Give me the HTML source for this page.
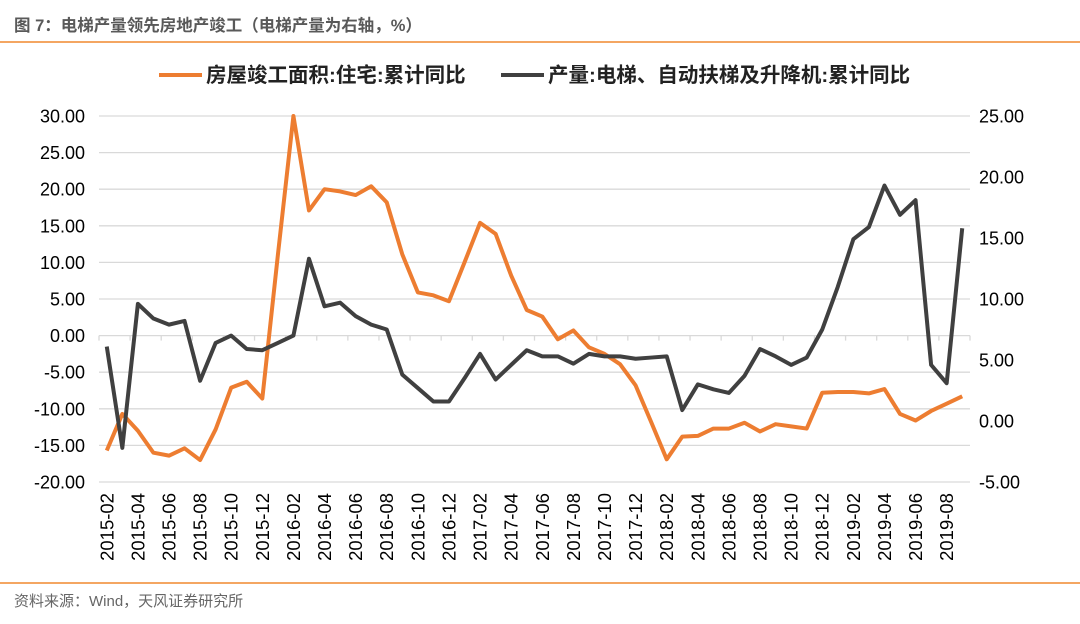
<!DOCTYPE html>
<html><head><meta charset="utf-8">
<style>
html,body{margin:0;padding:0;background:#fff;width:1080px;height:624px;overflow:hidden}
svg text{font-family:"Liberation Sans","Noto Sans CJK SC",sans-serif}
</style></head>
<body>
<svg id="chart" width="1080" height="624" xmlns="http://www.w3.org/2000/svg">
<text x="14" y="31" font-size="16.5" font-weight="bold" fill="#595959">图 7：电梯产量领先房地产竣工（电梯产量为右轴，%）</text>
<line x1="0" y1="42" x2="1080" y2="42" stroke="#f0892e" stroke-width="1.5"/>
<g>
<line x1="159" y1="75" x2="202" y2="75" stroke="#ed7d31" stroke-width="4"/>
<text x="206" y="82" font-size="20.5" font-weight="bold" fill="#222">房屋竣工面积:住宅:累计同比</text>
<line x1="501" y1="75" x2="544" y2="75" stroke="#404040" stroke-width="4"/>
<text x="548" y="82" font-size="20.5" font-weight="bold" fill="#222">产量:电梯、自动扶梯及升降机:累计同比</text>
</g>
<g id="grid"></g><g id="axes"></g><g id="series"></g>
<line x1="0" y1="583" x2="1080" y2="583" stroke="#f0892e" stroke-width="1.5"/>
<text x="14" y="606" font-size="15" fill="#666">资料来源：Wind，天风证券研究所</text>
</svg>
<script>
const startYear = 2015, startMonth = 2;
const completion = [-15.7,-10.7,-13.0,-16.0,-16.4,-15.4,-17.0,-12.8,-7.1,-6.3,-8.6,11.0,30.0,17.1,20.0,19.7,19.2,20.4,18.2,11.1,5.9,5.5,4.7,10.0,15.4,13.9,8.2,3.5,2.6,-0.5,0.7,-1.6,-2.5,-3.9,-6.8,-11.8,-16.9,-13.8,-13.7,-12.7,-12.7,-11.9,-13.1,-12.1,-12.4,-12.7,-7.8,-7.7,-7.7,-7.9,-7.3,-10.7,-11.6,-10.3,-9.3,-8.3];
const elevator = [6.1,-2.2,9.6,8.4,7.9,8.2,3.3,6.4,7.0,5.9,5.8,6.4,7.0,13.3,9.4,9.7,8.6,7.9,7.5,3.8,2.7,1.6,1.6,3.5,5.5,3.4,4.6,5.8,5.3,5.3,4.7,5.5,5.3,5.3,5.1,5.2,5.3,0.9,3.0,2.6,2.3,3.7,5.9,5.3,4.6,5.2,7.5,11.0,14.9,15.9,19.3,16.9,18.1,4.6,3.1,15.8];
const leftTicks = [30,25,20,15,10,5,0,-5,-10,-15,-20];
const rightTicks = [25,20,15,10,5,0,-5];
const categories = completion.map((_,i)=>{const m=startMonth-1+i;return (startYear+Math.floor(m/12))+'-'+String(m%12+1).padStart(2,'0');});

const NS='http://www.w3.org/2000/svg';
const X0=99, X1=970, YT=116, YB=482;
const step=(X1-X0)/categories.length;
const xc=i=>X0+step*(i+0.5);
const yL=v=>YT+(30-v)*(YB-YT)/50;
const yR=v=>YT+(25-v)*(YB-YT)/30;
function mk(tag,attrs,parent){const e=document.createElementNS(NS,tag);for(const k in attrs)e.setAttribute(k,attrs[k]);parent.appendChild(e);return e;}
const grid=document.getElementById('grid'), axes=document.getElementById('axes'), series=document.getElementById('series');
leftTicks.forEach(v=>{
  const y=yL(v);
  if(v!==0){const g=mk('line',{x1:X0,x2:X1,y1:y,y2:y,stroke:'#d9d9d9','stroke-width':1.3},grid);
  
  }
  const t=mk('text',{x:85,y:y+6.5,'text-anchor':'end','font-size':18,fill:'#000'},axes);
  t.textContent=v.toFixed(2);
  
  
});
rightTicks.forEach(v=>{
  const t=mk('text',{x:979,y:yR(v)+6.5,'text-anchor':'start','font-size':18,fill:'#000'},axes);
  t.textContent=v.toFixed(2);
  
  
});
const y0=yL(0);
const ax=mk('line',{x1:X0,x2:X1,y1:y0,y2:y0,stroke:'#d9d9d9','stroke-width':1.3},axes);


for(let i=0;i<=categories.length;i+=2){
  const x=X0+step*i;
  const tk=mk('line',{x1:x,x2:x,y1:y0,y2:y0+5,stroke:'#d9d9d9','stroke-width':1.3},axes);
  
  
}
categories.forEach((c,i)=>{
  if(i%2)return;
  const x=xc(i)+6.5, y=493;
  const t=mk('text',{x:x,y:y,'text-anchor':'end','font-size':18.5,fill:'#000',transform:`rotate(-90 ${x} ${y})`},axes);
  t.textContent=c;
  
  
});
const p1=mk('polyline',{points:completion.map((v,i)=>xc(i)+','+yL(v)).join(' '),fill:'none',stroke:'#ed7d31','stroke-width':4,'stroke-linejoin':'round'},series);


const p2=mk('polyline',{points:elevator.map((v,i)=>xc(i)+','+yR(v)).join(' '),fill:'none',stroke:'#404040','stroke-width':4,'stroke-linejoin':'round'},series);


</script>
</body></html>
